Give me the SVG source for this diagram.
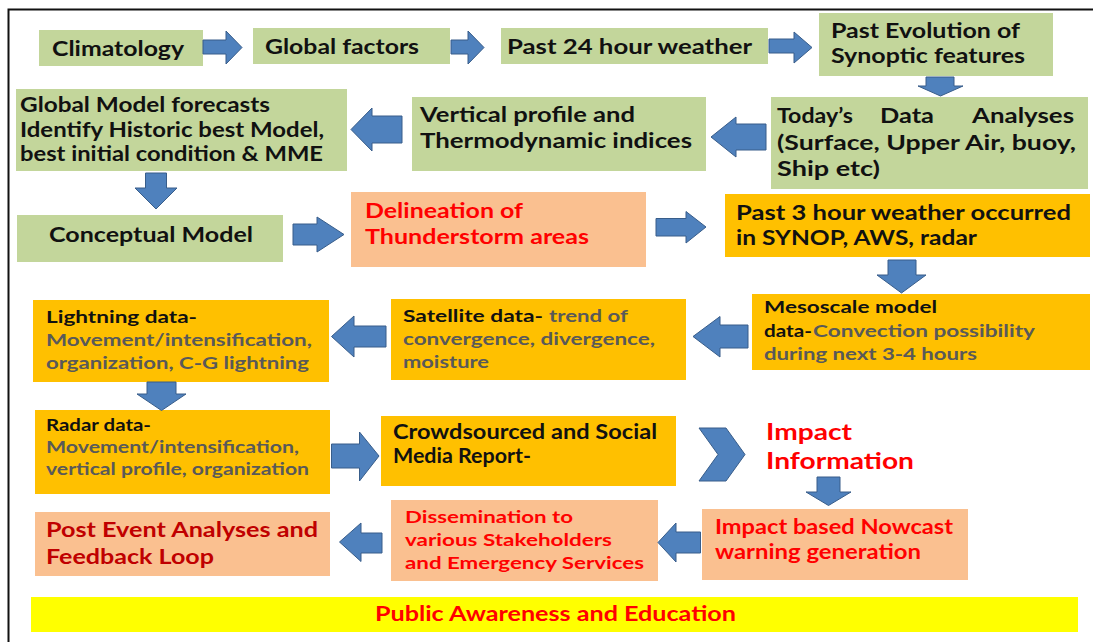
<svg xmlns="http://www.w3.org/2000/svg" width="1093" height="642" viewBox="0 0 1093 642">
<style>
.g{fill:#C3D69B}
.o{fill:#FAC090}
.y{fill:#FFC000}
.yy{fill:#FFFF00}
.ar{fill:#4F81BD;stroke:#385D8A;stroke-width:1}
text{font-family:Lato,"Liberation Sans",sans-serif;font-weight:700}
.k{fill:#111}
.gr{fill:#595959}
.r{fill:#FF0000}
.dr{fill:#C00000}
.f21{font-size:21px}
.f20{font-size:20px}
.f17{font-size:17px}
.f23{font-size:23px}
</style>
<rect x="0" y="0" width="1093" height="642" fill="#fff"/>
<path d="M8.5 642 V9.5 H1093" fill="none" stroke="#111" stroke-width="2"/>

<g id="climatology"><rect class="g" x="39" y="30" width="164" height="36"/>
<text class="k f21" x="52" y="56" textLength="132" lengthAdjust="spacingAndGlyphs">Climatology</text></g>
<g id="global-factors"><rect class="g" x="253" y="28" width="197" height="36"/>
<text class="k f21" x="265" y="54" textLength="154" lengthAdjust="spacingAndGlyphs">Global factors</text></g>
<g id="past24"><rect class="g" x="501" y="28" width="267" height="36"/>
<text class="k f21" x="507" y="54" textLength="245" lengthAdjust="spacingAndGlyphs">Past 24 hour weather</text></g>
<g id="past-evolution"><rect class="g" x="819" y="13" width="234" height="63"/>
<text class="k f20" x="831" y="38" textLength="189" lengthAdjust="spacingAndGlyphs">Past Evolution of</text>
<text class="k f20" x="831" y="63" textLength="194" lengthAdjust="spacingAndGlyphs">Synoptic features</text></g>

<g id="global-model"><rect class="g" x="16" y="89" width="331" height="82"/>
<text class="k f20" x="20" y="112" textLength="250" lengthAdjust="spacingAndGlyphs">Global Model forecasts</text>
<text class="k f20" x="20" y="137" textLength="304" lengthAdjust="spacingAndGlyphs">Identify Historic best Model,</text>
<text class="k f20" x="20" y="161" textLength="303" lengthAdjust="spacingAndGlyphs">best initial condition &amp; MME</text></g>
<g id="vertical-profile"><rect class="g" x="412" y="97" width="294" height="74"/>
<text class="k f20" x="420" y="122" textLength="215" lengthAdjust="spacingAndGlyphs">Vertical profile and</text>
<text class="k f20" x="420" y="148" textLength="272" lengthAdjust="spacingAndGlyphs">Thermodynamic indices</text></g>
<g id="todays-data"><rect class="g" x="771" y="97" width="317" height="92"/>
<text class="k f20" x="777" y="123" textLength="76" lengthAdjust="spacingAndGlyphs">Today’s</text>
<text class="k f20" x="880" y="123" textLength="54" lengthAdjust="spacingAndGlyphs">Data</text>
<text class="k f20" x="972" y="123" textLength="102" lengthAdjust="spacingAndGlyphs">Analyses</text>
<text class="k f20" x="777" y="150" textLength="299" lengthAdjust="spacingAndGlyphs">(Surface, Upper Air, buoy,</text>
<text class="k f20" x="777" y="176" textLength="103" lengthAdjust="spacingAndGlyphs">Ship etc)</text></g>

<g id="conceptual"><rect class="g" x="17" y="215" width="266" height="47"/>
<text class="k f21" x="49" y="242" textLength="204" lengthAdjust="spacingAndGlyphs">Conceptual Model</text></g>
<g id="delineation"><rect class="o" x="351" y="192" width="295" height="75"/>
<text class="r f20" x="365" y="218" textLength="158" lengthAdjust="spacingAndGlyphs">Delineation of</text>
<text class="r f20" x="365" y="244" textLength="224" lengthAdjust="spacingAndGlyphs">Thunderstorm areas</text></g>
<g id="past3"><rect class="y" x="725" y="194" width="365" height="63"/>
<text class="k f20" x="736" y="220" textLength="335" lengthAdjust="spacingAndGlyphs">Past 3 hour weather occurred</text>
<text class="k f20" x="736" y="245" textLength="241" lengthAdjust="spacingAndGlyphs">in SYNOP, AWS, radar</text></g>

<g id="mesoscale"><rect class="y" x="752" y="294" width="338" height="76"/>
<text class="k f17" x="764" y="313" textLength="173" lengthAdjust="spacingAndGlyphs">Mesoscale model</text>
<text class="k f17" x="764" y="337" textLength="48" lengthAdjust="spacingAndGlyphs">data-</text>
<text class="gr f17" x="813" y="337" textLength="222" lengthAdjust="spacingAndGlyphs">Convection possibility</text>
<text class="gr f17" x="764" y="360" textLength="213" lengthAdjust="spacingAndGlyphs">during next 3-4 hours</text></g>
<g id="satellite"><rect class="y" x="391" y="299" width="295" height="81"/>
<text class="k f17" x="403" y="322" textLength="140" lengthAdjust="spacingAndGlyphs">Satellite data-</text>
<text class="gr f17" x="549" y="322" textLength="79" lengthAdjust="spacingAndGlyphs">trend of</text>
<text class="gr f17" x="403" y="345" textLength="252" lengthAdjust="spacingAndGlyphs">convergence, divergence,</text>
<text class="gr f17" x="403" y="368" textLength="86" lengthAdjust="spacingAndGlyphs">moisture</text></g>
<g id="lightning"><rect class="y" x="33" y="300" width="296" height="82"/>
<text class="k f17" x="46" y="323" textLength="151" lengthAdjust="spacingAndGlyphs">Lightning data-</text>
<text class="gr f17" x="46" y="346" textLength="266" lengthAdjust="spacingAndGlyphs">Movement/intensification,</text>
<text class="gr f17" x="46" y="369" textLength="263" lengthAdjust="spacingAndGlyphs">organization, C-G lightning</text></g>

<g id="radar"><rect class="y" x="35" y="410" width="295" height="84"/>
<text class="k f17" x="46" y="431" textLength="105" lengthAdjust="spacingAndGlyphs">Radar data-</text>
<text class="gr f17" x="46" y="453" textLength="253" lengthAdjust="spacingAndGlyphs">Movement/intensification,</text>
<text class="gr f17" x="46" y="475" textLength="263" lengthAdjust="spacingAndGlyphs">vertical profile, organization</text></g>
<g id="crowdsourced"><rect class="y" x="381" y="416" width="295" height="70"/>
<text class="k f20" x="393" y="439" textLength="264" lengthAdjust="spacingAndGlyphs">Crowdsourced and Social</text>
<text class="k f20" x="393" y="463" textLength="138" lengthAdjust="spacingAndGlyphs">Media Report-</text></g>
<g id="impact-information">
<text class="r f23" x="766" y="440" textLength="86" lengthAdjust="spacingAndGlyphs">Impact</text>
<text class="r f23" x="766" y="469" textLength="148" lengthAdjust="spacingAndGlyphs">Information</text></g>

<g id="impact-nowcast"><rect class="o" x="702" y="509" width="266" height="71"/>
<text class="r f20" x="715" y="534" textLength="238" lengthAdjust="spacingAndGlyphs">Impact based Nowcast</text>
<text class="r f20" x="715" y="559" textLength="206" lengthAdjust="spacingAndGlyphs">warning generation</text></g>
<g id="dissemination"><rect class="o" x="391" y="500" width="267" height="81"/>
<text class="r f17" x="405" y="523" textLength="168" lengthAdjust="spacingAndGlyphs">Dissemination to</text>
<text class="r f17" x="405" y="546" textLength="207" lengthAdjust="spacingAndGlyphs">various Stakeholders</text>
<text class="r f17" x="405" y="569" textLength="239" lengthAdjust="spacingAndGlyphs">and Emergency Services</text></g>
<g id="post-event"><rect class="o" x="35" y="512" width="295" height="64"/>
<text class="dr f20" x="46" y="537" textLength="272" lengthAdjust="spacingAndGlyphs">Post Event Analyses and</text>
<text class="dr f20" x="46" y="564" textLength="168" lengthAdjust="spacingAndGlyphs">Feedback Loop</text></g>
<g id="public-awareness"><rect class="yy" x="31" y="597" width="1047" height="35"/>
<text class="r f20" x="375" y="621" textLength="361" lengthAdjust="spacingAndGlyphs">Public Awareness and Education</text></g>

<g id="connectors">
<polygon class="ar" points="203,40 226,40 226,31 242,47.5 226,64 226,54 203,54"/>
<polygon class="ar" points="451,40 468,40 468,31 484,47.5 468,64 468,54 451,54"/>
<polygon class="ar" points="769,39 794,39 794,32 812,47.5 794,63 794,53 769,53"/>
<polygon class="ar" points="926,77 954,77 954,86 963,86 940.5,96 918,86 926,86"/>
<polygon class="ar" points="766,124 736,124 736,117 711,137 736,157 736,150 766,150"/>
<polygon class="ar" points="402,116 372,116 372,108 351,129.5 372,151 372,143 402,143"/>
<polygon class="ar" points="145.5,173 166.5,173 166.5,188 177,188 156,209 135,188 145.5,188"/>
<polygon class="ar" points="293,224 317,224 317,217 344,234.5 317,252 317,245 293,245"/>
<polygon class="ar" points="656,218.5 686,218.5 686,211.5 706,227 686,243 686,236 656,236"/>
<polygon class="ar" points="888,260 916,260 916,275 926,275 901.5,293 877,275 888,275"/>
<polygon class="ar" points="748,325 720,325 720,316.5 693,336.5 720,357 720,348 748,348"/>
<polygon class="ar" points="386,326 354,326 354,316 331.5,336.5 354,357 354,347 386,347"/>
<polygon class="ar" points="147,382 176,382 176,394 186,394 161.5,410.5 137,394 147,394"/>
<polygon class="ar" points="331.5,444 359.5,444 359.5,432 379,456 359.5,481 359.5,468 331.5,468"/>
<polygon class="ar" points="699,428 726,428 745,454.5 726,481 699,481 718,454.5"/>
<polygon class="ar" points="817,477 840,477 840,492 851,492 828.5,505.5 806,492 817,492"/>
<polygon class="ar" points="700.5,532 676,532 676,523 658,542.5 676,562 676,553 700.5,553"/>
<polygon class="ar" points="382,533 361,533 361,523 339.5,542 361,561.5 361,553 382,553"/>
</g>
</svg>
